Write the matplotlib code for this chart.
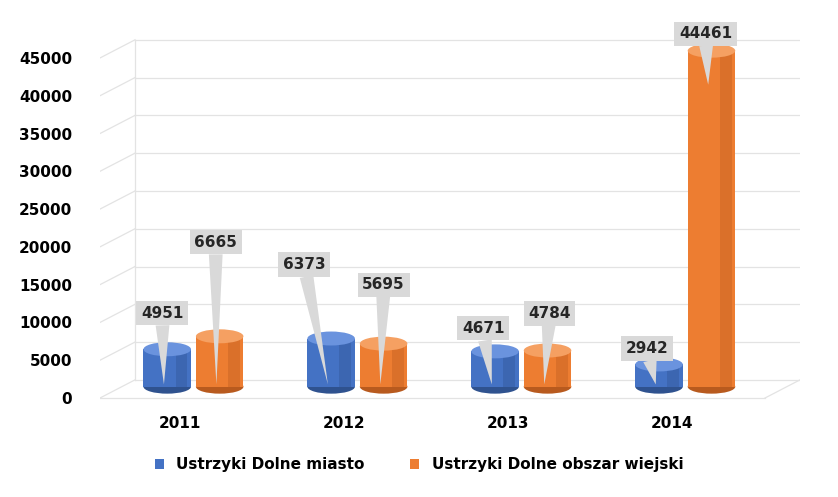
import matplotlib
matplotlib.use("Agg")
import matplotlib.pyplot as plt
from matplotlib.patches import Ellipse, Patch

years = ["2011", "2012", "2013", "2014"]
miasto = [4951, 6373, 4671, 2942]
wies = [6665, 5695, 4784, 44461]
series_names = ["Ustrzyki Dolne miasto", "Ustrzyki Dolne obszar wiejski"]
ticks = list(range(0, 45001, 5000))

# styling / layout
colors = ["#4472C4", "#ED7D31"]
tops = ["#6A93DE", "#F5A062"]
darks = ["#2F528F", "#B85A1E"]
offsets = [-0.08, 0.24]
width = 0.29
base = 1500
depth = 2400
lab_off = [[(-5, 36), (-27, 74), (-12, 23), (-12, 16)],
           [(-4, 94), (0, 59), (2, 37), (-6, 17)]]
px_x = 1 / 164
px_y = 1000 / 7.556

fig = plt.figure(figsize=(8.38, 4.97), dpi=100)
ax = fig.add_axes([100/838, 92/497, 700/838, 375/497])
xmin, xmax = -0.49, 3.78
ax.set_xlim(xmin, xmax)
ax.set_ylim(-926, 48700)
for s in ax.spines.values():
    s.set_visible(False)
xb = xmin + 35/164
gc = "#e3e3e3"
for v in ticks:
    ax.plot([xmin, xb], [v, v + depth], color=gc, lw=0.9, zorder=0)
    ax.plot([xb, xmax], [v + depth, v + depth], color=gc, lw=0.9, zorder=0)
ax.plot([xb, xb], [depth, ticks[-1] + depth], color=gc, lw=0.9, zorder=0)
ax.plot([xmin, xmax - 35/164], [0, 0], color=gc, lw=0.9, zorder=0)
ax.plot([xmax - 35/164, xmax], [0, depth], color=gc, lw=0.9, zorder=0)

eh = 1850
for si, vals in enumerate([miasto, wies]):
    for i, v in enumerate(vals):
        x = i + offsets[si]
        ax.add_patch(Ellipse((x, base), width, eh, fc=darks[si], ec="none", zorder=2))
        ax.bar(x, v, width, bottom=base, color=colors[si], zorder=2)
        ax.bar(x + width*0.3, v, width*0.25, bottom=base, color=darks[si], alpha=0.35, zorder=2)
        ax.add_patch(Ellipse((x, base + v), width, eh, fc=tops[si], ec="none", zorder=3))
        dx, dy = lab_off[si][i]
        tx, ty = x + dx * px_x, base + v + dy * px_y
        target = (x - 0.02, base + 300) if v < 10000 else (x - 0.02, base + v - 4500)
        ax.annotate(str(v), xy=target, xytext=(tx, ty), textcoords="data",
                    xycoords="data", ha="center", va="center",
                    fontsize=11, fontweight="bold", color="#262626", zorder=5,
                    annotation_clip=False,
                    bbox=dict(boxstyle="square,pad=0.3", fc="#d9d9d9", ec="none"),
                    arrowprops=dict(arrowstyle="wedge,tail_width=0.9", fc="#d9d9d9", ec="none",
                                    shrinkA=0, shrinkB=0))

ax.set_xticks(range(len(years)))
ax.set_xticklabels(years, fontweight="bold", fontsize=11)
ax.set_yticks(ticks)
ax.set_yticklabels([str(t) for t in ticks], fontweight="bold", fontsize=11)
ax.tick_params(length=0)
ax.tick_params(axis="y", pad=20)
ax.tick_params(axis="x", pad=8)

handles = [Patch(fc=c) for c in colors]
leg = fig.legend(handles, series_names, loc="center", bbox_to_anchor=(0.5, 0.065), ncol=2,
                 frameon=False, prop={"weight": "bold", "size": 11},
                 handlelength=0.6, handleheight=0.6, columnspacing=3)
fig.savefig("out.png", dpi=100)
